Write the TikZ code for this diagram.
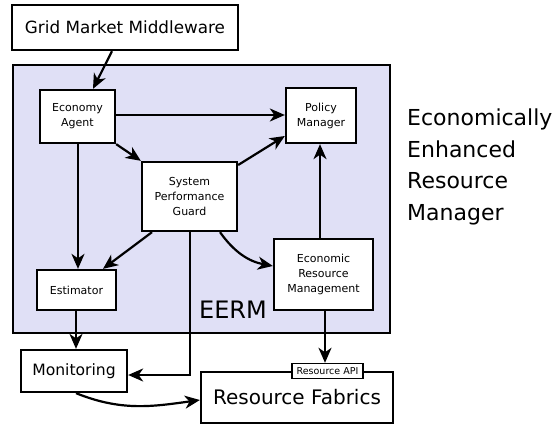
\documentclass[tikz,border=0pt]{standalone}
\usepackage{fontspec}
\setmainfont{DejaVu Sans}
\usetikzlibrary{arrows.meta}
\definecolor{eermfill}{RGB}{224,224,246}
\begin{document}
\begin{tikzpicture}[x=1pt,y=-1pt,
  box/.style={draw=black,line width=2.3pt,fill=white,inner sep=0pt,align=center},
  arr/.style={line width=2.2pt,-{Stealth[length=15pt,width=13pt,inset=4.5pt]}},
  small/.style={font=\fontsize{11}{15}\selectfont}]
\useasboundingbox (0,0) rectangle (557,425);

% enclosing manager area
\node[draw=black,line width=2.3pt,fill=eermfill,minimum width=377pt,minimum height=268pt,inner sep=0pt]
  (eerm) at (201.5,199) {};
\node[font=\fontsize{24}{28}\selectfont] (eermlbl) at (233,310) {EERM};

% components
\node[box,minimum width=226pt,minimum height=45pt,font=\fontsize{16.8}{19}\selectfont] (gmm) at (125,27.5) {Grid Market Middleware};
\node[box,small,minimum width=75pt,minimum height=53pt] (agent) at (77.5,116.5) {Economy\\Agent};
\node[box,small,minimum width=70pt,minimum height=55pt] (policy) at (321,115.5) {Policy\\Manager};
\node[box,small,minimum width=95pt,minimum height=69pt] (spg) at (189.5,196.5) {System\\Performance\\Guard};
\node[box,small,minimum width=79pt,minimum height=40pt] (est) at (76.5,290) {Estimator};
\node[box,small,minimum width=99pt,minimum height=71pt] (erm) at (323.5,274.5) {Economic\\Resource\\Management};
\node[box,minimum width=106pt,minimum height=42pt,font=\fontsize{15.6}{18}\selectfont] (mon) at (74,371) {Monitoring};
\node[box,minimum width=192pt,minimum height=51pt,font=\fontsize{20}{23}\selectfont] (fab) at (297,397.5) {Resource Fabrics};
\node[draw=black,line width=1.4pt,fill=white,inner sep=0pt,minimum width=71pt,minimum height=15pt,font=\fontsize{9.5}{11}\selectfont]
  (api) at (327.5,371) {Resource API};

% side caption
\node[anchor=north west,align=left,inner sep=0pt,font=\fontsize{22}{31.5}\selectfont] (cap) at (407,109)
  {Economically\\Enhanced\\Resource\\Manager};

% connectors
\coordinate (spgdown) at (190,375);
\draw[arr] (gmm.south -| 112,0) -- (agent.north -| 93,0);
\draw[arr] (agent.east |- 0,115) -- (policy.west |- 0,115);
\draw[arr] (agent.south east) -- (spg.north west);
\draw[arr] (spg.north east |- 0,165) -- (policy.south west |- 0,136);
\draw[arr] (agent.south -| 78,0) -- (est.north -| 78,0);
\draw[arr] (spg.south -| 152,0) -- (est.north -| 103,0);
\draw[arr] (spg.south -| 220,0) to[bend right=22] (erm.west |- 0,266);
\draw[arr] (erm.north -| 320,0) -- (policy.south -| 320,0);
\draw[arr] (spg.south -| 190,0) -- (spgdown) -- (mon.east |- spgdown);
\draw[arr] (est.south -| 76,0) -- (mon.north -| 76,0);
\draw[arr] (erm.south -| 325,0) -- (api.north -| 325,0);
\draw[arr] (mon.south -| 76,0) to[out=-22,in=188] (fab.west |- 0,400);
\end{tikzpicture}
\end{document}
